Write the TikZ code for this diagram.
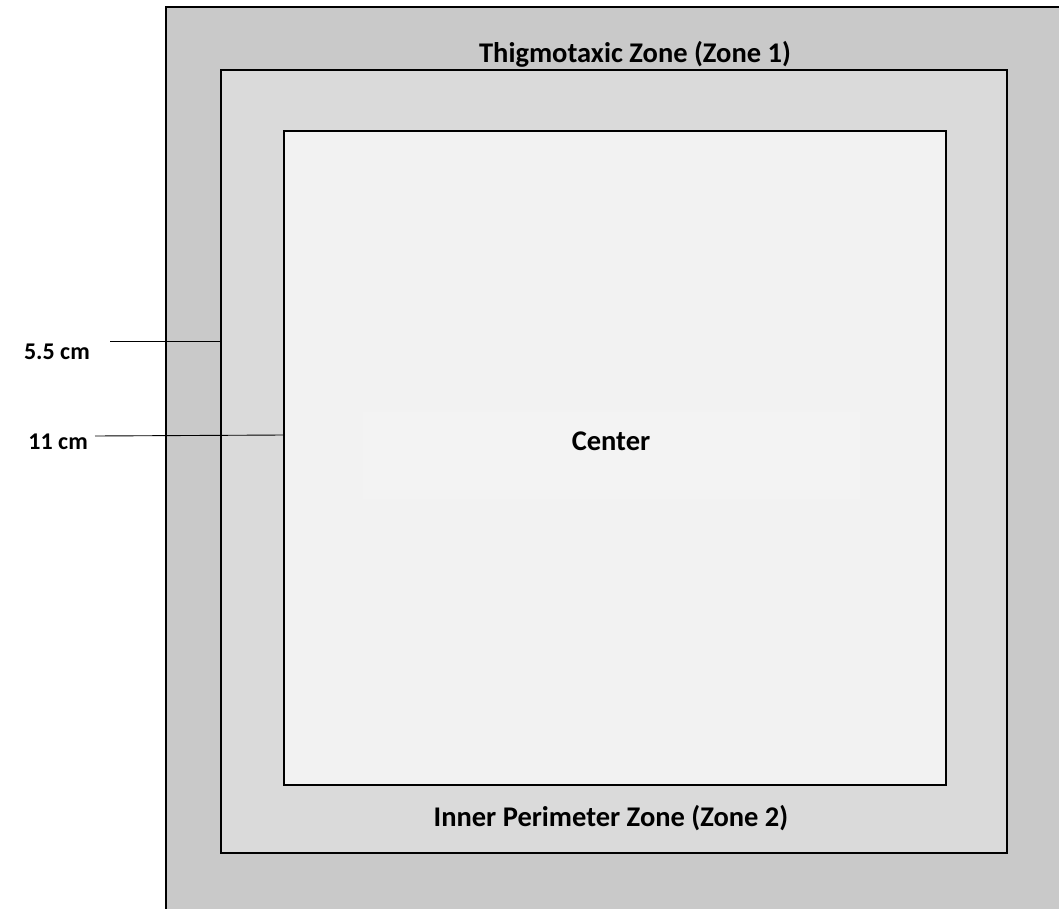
\documentclass[tikz,border=0pt]{standalone}
\usepackage{fontspec}
\setmainfont{Carlito}
\begin{document}
\begin{tikzpicture}[x=1pt,y=-1pt,
  zone/.style={draw=black,line width=2pt},
  lbl/.style={font=\bfseries\fontsize{28.5}{32}\selectfont,inner sep=0pt},
  dim/.style={font=\bfseries\fontsize{24}{27}\selectfont,inner sep=0pt},
  leader/.style={draw=black,line width=0.9pt}]
\useasboundingbox (0,0) rectangle (1059,909);
\clip (0,0) rectangle (1059,909);
% outer arena
\path[zone,fill={rgb,255:red,201;green,201;blue,201}] (166,7) rectangle (1075,925);
% thigmotaxic zone boundary
\path[zone,fill={rgb,255:red,218;green,218;blue,218}] (221,70) rectangle (1007,853);
% inner perimeter boundary
\path[zone,fill={rgb,255:red,242;green,242;blue,242}] (284,131) rectangle (946,785);
% center region
\node[fill={rgb,255:red,243;green,243;blue,243},minimum width=497pt,minimum height=87pt,inner sep=0pt] (ctr) at (611.5,455.5) {};
\node[lbl] (ctrtxt) at (611,441) {Center};
\node[lbl] (z1) at (635,54) {Thigmotaxic Zone (Zone 1)};
\node[lbl] (z2) at (611,818) {Inner Perimeter Zone (Zone 2)};
% dimension labels
\node[dim,anchor=east] (d1) at (90,352) {5.5 cm};
\node[dim,anchor=east] (d2) at (88,442) {11 cm};
\coordinate (d1s) at (110,341);
\coordinate (d1e) at (221,341);
\coordinate (d2s) at (95,436);
\coordinate (d2e) at (284,435);
\draw[leader] (d1s) -- (d1e);
\draw[leader] (d2s) -- (d2e);
\end{tikzpicture}
\end{document}
